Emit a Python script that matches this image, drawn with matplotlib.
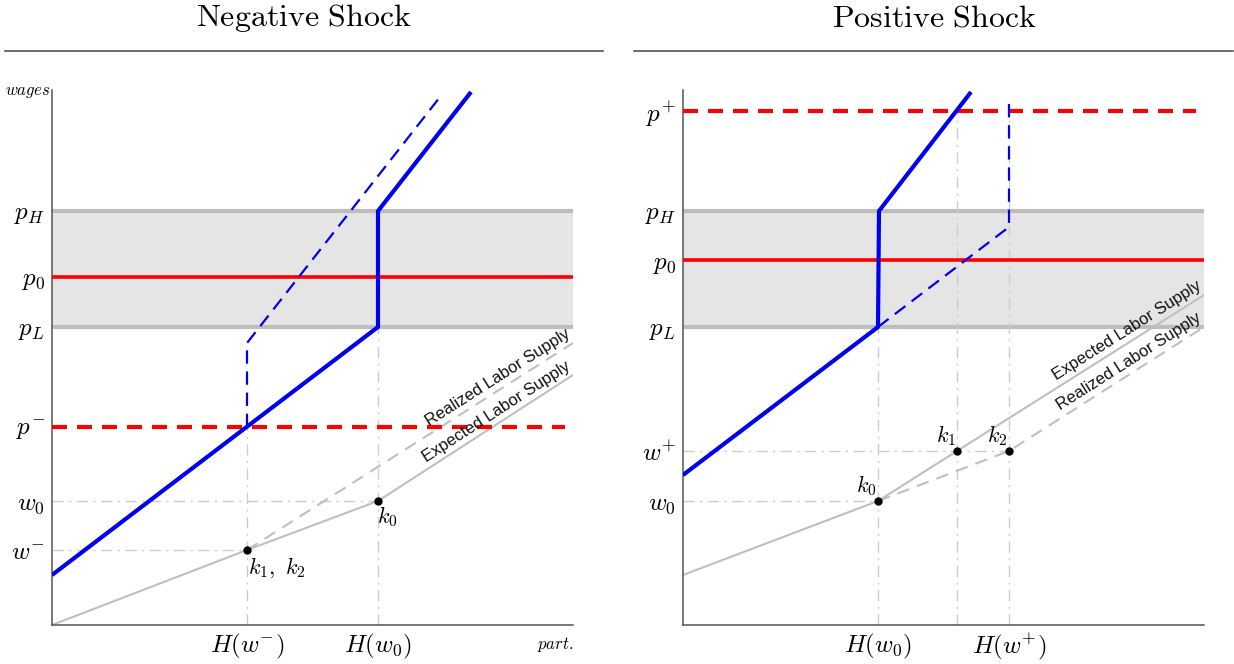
import numpy as np
import matplotlib
matplotlib.use("Agg")
import matplotlib.pyplot as plt
from matplotlib.lines import Line2D

plt.rcParams['mathtext.fontset'] = 'cm'

# ── chart units: x = participation, y = wages (0..521 x 0..535) ──────────────
XMAX, YMAX = 521, 535

# Negative shock panel
neg_levels = {'pH': 414, 'p0': 348, 'pL': 298, 'p_minus': 198, 'w0': 124, 'w_minus': 75}
neg_H = {'H_wminus': 195, 'H_w0': 326}
neg_blue_x = [0, 326, 326, 419]
neg_blue_y = [50, 298, 414, 533]
neg_blue_dash_x = [195, 195, 388]
neg_blue_dash_y = [198, 282, 528]
neg_expected_x = [0, 195, 326, 521]
neg_expected_y = [0, 75, 124, 250]
neg_realized_x = [195, 521]
neg_realized_y = [75, 282]
neg_yticks = [414, 348, 298, 198, 124, 75]
neg_ylabels = [r'$p_H$', r'$p_0$', r'$p_L$', r'$p^{-}$', r'$w_0$', r'$w^{-}$']
neg_xticks = [195, 326]
neg_xlabels = [r'$H(w^{-})$', r'$H(w_0)$']

# Positive shock panel
pos_levels = {'pH': 414, 'p0': 365, 'pL': 298, 'p_plus': 514, 'w0': 124, 'w_plus': 174}
pos_H = {'H_w0': 195, 'k1': 274, 'H_wplus': 326}
pos_blue_x = [0, 195, 196, 288]
pos_blue_y = [150, 298, 414, 533]
pos_blue_dash_x = [195, 326, 326]
pos_blue_dash_y = [298, 398, 528]
pos_expected_x = [0, 195, 274, 521]
pos_expected_y = [50, 124, 174, 330]
pos_realized_x = [195, 326, 521]
pos_realized_y = [124, 174, 298]
pos_yticks = [514, 414, 365, 298, 174, 124]
pos_ylabels = [r'$p^{+}$', r'$p_H$', r'$p_0$', r'$p_L$', r'$w^{+}$', r'$w_0$']
pos_xticks = [195, 326]
pos_xlabels = [r'$H(w_0)$', r'$H(w^{+})$']

BLUE = '#0000ee'
RED = '#ff0000'
BAND = '#e5e5e5'
BAND_EDGE = '#bdbdbd'
SUPPLY = '#bfbfbf'
GUIDE = '#cccccc'

fig = plt.figure(figsize=(12.34, 6.64), dpi=100)
W, H = 1234, 664
ax1 = fig.add_axes([52 / W, 39 / H, 521 / W, 535 / H])
ax2 = fig.add_axes([683 / W, 39 / H, 521 / W, 535 / H])


def style_axes(ax, yticks, ylabels, xticks, xlabels):
    ax.set_xlim(0, XMAX)
    ax.set_ylim(0, YMAX)
    for s in ['top', 'right']:
        ax.spines[s].set_visible(False)
    for s in ['left', 'bottom']:
        ax.spines[s].set_color('#555555')
        ax.spines[s].set_linewidth(1.1)
    ax.set_yticks(yticks, ylabels, fontsize=18)
    ax.set_xticks(xticks, xlabels, fontsize=18)
    ax.tick_params(length=0, pad=5)


def band(ax, lo, hi):
    ax.fill_between([0, XMAX], lo, hi, color=BAND, lw=0, zorder=0)
    for v in (lo, hi):
        ax.plot([0, XMAX], [v, v], color=BAND_EDGE, lw=3, solid_capstyle='butt', zorder=1)


def guide(ax, xs, ys):
    ax.plot(xs, ys, color=GUIDE, lw=1, ls='-.', dashes=(8, 4, 1.5, 4), zorder=1)


def supply_label(ax, x0, y0, x1, y1, text):
    ang = np.degrees(np.arctan2(y1 - y0, x1 - x0))
    ax.text(x1, y1 + 4, text, rotation=ang, rotation_mode='anchor',
            transform_rotates_text=True, ha='right', va='bottom',
            fontsize=12, family='Liberation Sans', color='#111111', zorder=6)


# ── Negative shock ───────────────────────────────────────────────────────────
L = neg_levels
band(ax1, L['pL'], L['pH'])
ax1.plot([0, XMAX], [L['p0'], L['p0']], color=RED, lw=2.6, zorder=3)
ax1.plot([0, 513], [L['p_minus'], L['p_minus']], color=RED, lw=3, dashes=(3.6, 2.4), zorder=3)

guide(ax1, [0, neg_H['H_w0']], [L['w0'], L['w0']])
guide(ax1, [0, neg_H['H_wminus']], [L['w_minus'], L['w_minus']])
guide(ax1, [neg_H['H_wminus'], neg_H['H_wminus']], [0, L['p_minus']])
guide(ax1, [neg_H['H_w0'], neg_H['H_w0']], [0, L['pL']])

ax1.plot(neg_expected_x, neg_expected_y, color=SUPPLY, lw=1.5, zorder=2)
ax1.plot(neg_realized_x, neg_realized_y, color=SUPPLY, lw=1.5, dashes=(6, 4), zorder=2)
ax1.plot(neg_blue_dash_x, neg_blue_dash_y, color=BLUE, lw=1.6, dashes=(6, 3.5), zorder=4)
ax1.plot(neg_blue_x, neg_blue_y, color=BLUE, lw=3, zorder=5, solid_capstyle='butt')

ax1.plot([neg_H['H_wminus'], neg_H['H_w0']], [L['w_minus'], L['w0']], 'o',
         color='black', ms=5, zorder=7)
ax1.text(neg_H['H_wminus'] + 1, L['w_minus'] - 5, r'$k_1,\ k_2$', fontsize=16, va='top', ha='left')
ax1.text(neg_H['H_w0'] - 1, L['w0'] - 3, r'$k_0$', fontsize=16, va='top', ha='left')

supply_label(ax1, neg_realized_x[0], neg_realized_y[0], neg_realized_x[-1], neg_realized_y[-1],
             'Realized Labor Supply')
supply_label(ax1, neg_expected_x[-2], neg_expected_y[-2], neg_expected_x[-1], neg_expected_y[-1],
             'Expected Labor Supply')

style_axes(ax1, neg_yticks, neg_ylabels, neg_xticks, neg_xlabels)
ax1.text(-2, YMAX - 1, r'$wages$', fontsize=12, ha='right', va='center')
ax1.text(XMAX, -20, r'$part.$', fontsize=12, ha='right', va='center')

# ── Positive shock ───────────────────────────────────────────────────────────
P = pos_levels
band(ax2, P['pL'], P['pH'])
ax2.plot([0, XMAX], [P['p0'], P['p0']], color=RED, lw=2.6, zorder=3)
ax2.plot([0, 513], [P['p_plus'], P['p_plus']], color=RED, lw=3, dashes=(3.6, 2.4), zorder=3)

guide(ax2, [0, pos_H['H_w0']], [P['w0'], P['w0']])
guide(ax2, [0, pos_H['H_wplus']], [P['w_plus'], P['w_plus']])
guide(ax2, [pos_H['H_w0'], pos_H['H_w0']], [0, P['pL']])
guide(ax2, [pos_H['k1'], pos_H['k1']], [0, P['p_plus']])
guide(ax2, [pos_H['H_wplus'], pos_H['H_wplus']], [0, P['p_plus']])

ax2.plot(pos_expected_x, pos_expected_y, color=SUPPLY, lw=1.5, zorder=2)
ax2.plot(pos_realized_x, pos_realized_y, color=SUPPLY, lw=1.5, dashes=(6, 4), zorder=2)
ax2.plot(pos_blue_dash_x, pos_blue_dash_y, color=BLUE, lw=1.6, dashes=(6, 3.5), zorder=4)
ax2.plot(pos_blue_x, pos_blue_y, color=BLUE, lw=3, zorder=5, solid_capstyle='butt')

ax2.plot([pos_H['H_w0'], pos_H['k1'], pos_H['H_wplus']], [P['w0'], P['w_plus'], P['w_plus']], 'o',
         color='black', ms=5, zorder=7)
ax2.text(pos_H['H_w0'] - 1, P['w0'] + 3, r'$k_0$', fontsize=16, va='bottom', ha='right')
ax2.text(pos_H['k1'] - 1, P['w_plus'] + 3, r'$k_1$', fontsize=16, va='bottom', ha='right')
ax2.text(pos_H['H_wplus'] - 1, P['w_plus'] + 3, r'$k_2$', fontsize=16, va='bottom', ha='right')

supply_label(ax2, pos_expected_x[-2], pos_expected_y[-2], pos_expected_x[-1], pos_expected_y[-1],
             'Expected Labor Supply')
supply_label(ax2, pos_realized_x[-2], pos_realized_y[-2], pos_realized_x[-1], pos_realized_y[-1],
             'Realized Labor Supply')

style_axes(ax2, pos_yticks, pos_ylabels, pos_xticks, pos_xlabels)

# ── panel titles with rule underneath ────────────────────────────────────────
fig.text(304 / W, 1 - 18 / H, r'$\mathrm{Negative\ Shock}$', fontsize=23, ha='center', va='center')
fig.text(934 / W, 1 - 18 / H, r'$\mathrm{Positive\ Shock}$', fontsize=23, ha='center', va='center')
fig.add_artist(Line2D([5 / W, 603 / W], [1 - 51 / H] * 2, color='#444444', lw=1.1))
fig.add_artist(Line2D([634 / W, 1233 / W], [1 - 51 / H] * 2, color='#444444', lw=1.1))

fig.savefig('out.png', dpi=100)
